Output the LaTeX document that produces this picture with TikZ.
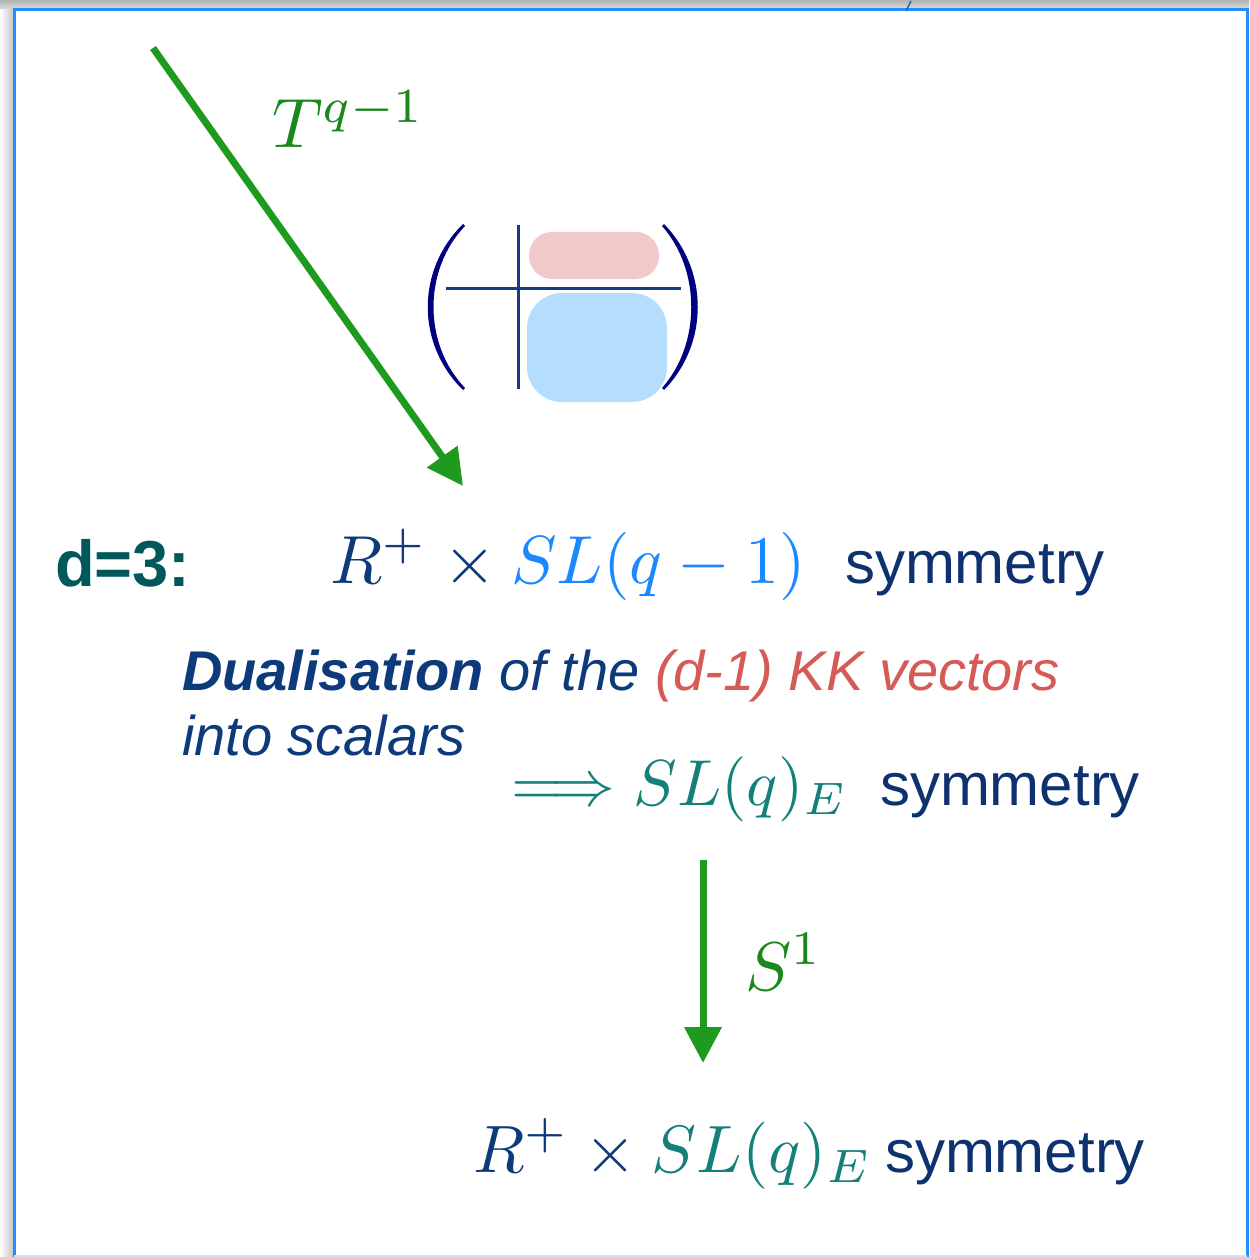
\RequirePackage{fix-cm}
\documentclass[tikz,border=0pt]{standalone}
\usepackage{fontspec}
\DeclareFontFamily{OML}{cmm}{\skewchar\font127 }
\DeclareFontShape{OML}{cmm}{m}{it}{<-55>cmmi7<55->cmmi10}{}
\DeclareFontFamily{OT1}{cmr}{\hyphenchar\font45 }
\DeclareFontShape{OT1}{cmr}{m}{n}{<-55>cmr7<55->cmr10}{}
\DeclareFontFamily{OMS}{cmsy}{\skewchar\font48 }
\DeclareFontShape{OMS}{cmsy}{m}{n}{<-55>cmsy7<55->cmsy10}{}
\newfontfamily\helv{Liberation Sans}
\usetikzlibrary{arrows.meta}
\definecolor{arrowgreen}{RGB}{30,155,30}
\definecolor{labelgreen}{RGB}{28,135,28}
\definecolor{deepblue}{RGB}{12,58,122}
\definecolor{skyblue}{RGB}{28,136,255}
\definecolor{tealE}{RGB}{20,128,122}
\definecolor{dteal}{RGB}{0,88,90}
\definecolor{kkred}{RGB}{214,90,85}
\definecolor{navytxt}{RGB}{14,50,112}
\definecolor{frameblue}{RGB}{30,144,255}
\definecolor{pinkblk}{RGB}{242,201,201}
\definecolor{blueblk}{RGB}{181,222,254}
\definecolor{matline}{RGB}{20,60,130}
\definecolor{parnavy}{RGB}{0,0,128}
\begin{document}
\begin{tikzpicture}[x=1pt,y=-1pt,
  every node/.style={inner sep=0pt,outer sep=0pt},
  symtext/.style={anchor=base west,text=navytxt,font=\helv\fontsize{60}{72}\selectfont},
  mtext/.style={anchor=base west,font=\fontsize{68}{80}\selectfont},
  greenarrow/.style={draw=arrowgreen,line width=7pt,-{Triangle[length=36pt,width=36pt]}}]
\useasboundingbox (0,0) rectangle (1249,1257);
% slide frame
\fill[top color=gray!60,bottom color=gray!25] (0,0) rectangle (1249,10);
\fill[left color=white,right color=gray!45] (0,10) rectangle (13,1257);
\draw[frameblue,line width=3pt] (14,1257) -- (14,10) -- (1247,10) -- (1247,1257);
\draw[frameblue!25,line width=2pt] (14,1256) -- (1247,1256);
\draw[frameblue!70!black,line width=1.5pt] (906,11) -- (911,1);
% block matrix
\fill[pinkblk,rounded corners=23pt] (529,232) rectangle (659,279);
\fill[blueblk,rounded corners=35pt] (527,293) rectangle (667,402);
\draw[matline,line width=3pt] (518,225) -- (518,389);
\draw[matline,line width=3pt] (446,288) -- (681,288);
\fill[parnavy] (463,224) .. controls (416,270) and (416,344) .. (463,390)
  -- (465,388) .. controls (423,344) and (423,270) .. (465,226) -- cycle;
\fill[parnavy] (664,224) .. controls (709,270) and (709,344) .. (664,390)
  -- (662,388) .. controls (701,344) and (701,270) .. (662,226) -- cycle;
% T^{q-1} reduction
\coordinate (tstart) at (153,48);
\coordinate (ttip) at (463,486);
\draw[greenarrow] (tstart) -- (ttip);
\node[anchor=base west,text=labelgreen,font=\fontsize{70}{80}\selectfont] (tlabel) at (272,148) {$T^{q-1}$};
% d=3
\node[anchor=base west,text=dteal,font=\helv\bfseries\fontsize{65}{75}\selectfont] (dlabel) at (55,586) {d=3:};
\node[mtext] (rsl) at (330,583) {$\textcolor{deepblue}{R^+}\mkern1mu\mathbin{\textcolor{deepblue}{\times}}\textcolor{skyblue}{SL(q-1)}$};
\node[symtext] (sym1) at (845,583) {symmetry};
\node[anchor=base west,text=deepblue,font=\helv\itshape\fontsize{56}{66}\selectfont] (dual) at (182,690)
  {{\bfseries Dualisation} of the \textcolor{kkred}{(d-1) KK vectors}};
\node[anchor=base west,text=deepblue,font=\helv\itshape\fontsize{56}{66}\selectfont] (into) at (182,755) {into scalars};
\node[anchor=base west,text=tealE,font=\fontsize{65}{78}\selectfont] (sle) at (511,805) {$\Longrightarrow SL(q)_E$};
\node[symtext] (sym2) at (880,805) {symmetry};
% S^1 reduction
\coordinate (sstart) at (703,860);
\coordinate (stip) at (703,1063);
\draw[greenarrow] (sstart) -- (stip);
\node[anchor=base west,text=labelgreen,font=\fontsize{69}{80}\selectfont] (slabel) at (745,990) {$S^1$};
\node[mtext,font=\fontsize{67}{80}\selectfont] (rsle) at (473,1172) {$\textcolor{deepblue}{R^+}\mkern1mu\mathbin{\textcolor{deepblue}{\times}}\textcolor{tealE}{SL(q)_E}$};
\node[symtext] (sym3) at (885,1172) {symmetry};
\end{tikzpicture}
\end{document}
